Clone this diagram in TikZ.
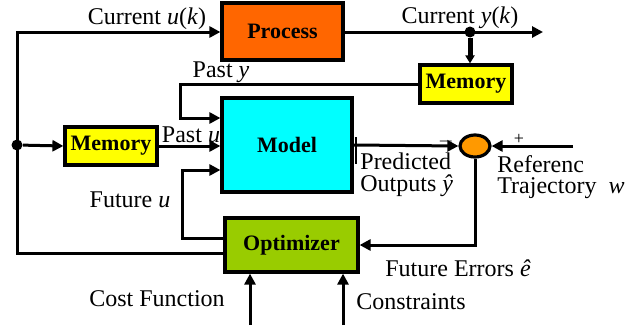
\documentclass[tikz,border=0pt]{standalone}
\usepackage{fontspec}
\setmainfont{Liberation Serif}
\usetikzlibrary{arrows.meta,shapes.geometric}
\definecolor{procorange}{HTML}{FF6600}
\definecolor{memyellow}{HTML}{FFFF00}
\definecolor{modelcyan}{HTML}{00FFFF}
\definecolor{optgreen}{HTML}{99CC00}
\definecolor{sumorange}{HTML}{FF9900}

\begin{document}
\begin{tikzpicture}[x=0.5pt,y=-0.5pt,font=\fontsize{12}{13}\selectfont]
\tikzstyle{block}=[draw=black,line width=1.6pt,inner sep=0pt,font=\fontsize{11}{13}\selectfont\bfseries]
\tikzstyle{wire}=[line width=1.5pt]
\tikzstyle{sig}=[wire,-{Triangle[length=5.5pt,width=5.5pt]}]
\tikzstyle{dot}=[circle,fill=black,inner sep=0pt,minimum size=5.5pt]

\useasboundingbox (0,0) rectangle (641,327);

% blocks
\node[block,fill=procorange,minimum width=60.5pt,minimum height=28.5pt] (process) at (282.5,31.5) {Process};
\node[block,fill=memyellow,minimum width=46pt,minimum height=19pt] (memy) at (466,84) {Memory};
\node[block,fill=modelcyan,minimum width=65pt,minimum height=47pt] (model) at (287,145) {Model};
\node[block,fill=memyellow,minimum width=46pt,minimum height=19pt] (memu) at (111,146) {Memory};
\node[block,fill=optgreen,minimum width=66.5pt,minimum height=27pt] (opt) at (291.5,245) {Optimizer};
\node[ellipse,draw=black,line width=1.6pt,fill=sumorange,inner sep=0pt,minimum width=15pt,minimum height=11pt] (sum) at (475,146) {};

% junctions and free ends
\node[dot] (yk) at (470,32) {};
\node[dot] (ju) at (17,145) {};
\coordinate (tl) at (17,32);
\coordinate (bl) at (17,253);
\coordinate (yend) at (543,32);
\coordinate (pyc) at (180,84);
\coordinate (pyin) at (222,118);
\coordinate (fuc) at (182,238);
\coordinate (fuin) at (222,170);
\coordinate (wref) at (573,146);
\coordinate (cost) at (250,325);
\coordinate (cons) at (343,325);

% signals
\draw[sig] (opt.west |- bl) -- (bl) -- (tl) -- (process.west |- tl);
\draw[sig] (process.east |- yk) -- (yend);
\draw[wire,line width=2.5pt,-{Triangle[length=4pt,width=4.5pt]}] (yk) -- (yk |- memy.north);
\draw[sig] (memy.west) -- (pyc) |- (model.west |- pyin);
\draw[sig] (ju) -- (memu.west);
\draw[sig] (memu.east) -- (model.west |- memu.east);
\draw[sig] (opt.west |- fuc) -- (fuc) |- (model.west |- fuin);
\draw[sig] (model.east) -- (sum.west);
\draw[wire,line width=1pt] (356,137) -- (356,164);
\draw[sig] (wref) -- (sum.east);
\draw[sig] (sum.south) |- (opt.east);
\draw[sig] (cost) -- (cost |- opt.south);
\draw[sig] (cons) -- (cons |- opt.south);

% labels
\node (lu) at (147,19) {Current \textit{u}(\textit{k})};
\node (ly) at (460,18) {Current \textit{y}(\textit{k})};
\node (lpy) at (221,72) {Past \textit{y}};
\node (lpu) at (191,135) {Past \textit{u}};
\node (lfu) at (130,200) {Future \textit{u}};
\node[font=\fontsize{10}{10}\selectfont] (minus) at (446,141) {$-$};
\node[font=\fontsize{9}{10}\selectfont] (plus) at (519,139) {+};
\node[align=left,anchor=north west,inner sep=0pt,font=\fontsize{12}{11}\selectfont] (lpred) at (360,152) {Predicted\\Outputs \textit{ŷ}};
\node[align=left,anchor=north west,inner sep=0pt,font=\fontsize{12}{10.5}\selectfont] (lref) at (497,155) {Referenc\\Trajectory~ \textit{w}};
\node (lerr) at (458,268) {Future Errors \textit{ê}};
\node (lcost) at (157,299) {Cost Function};
\node (lcons) at (411,302) {Constraints};
\end{tikzpicture}
\end{document}
